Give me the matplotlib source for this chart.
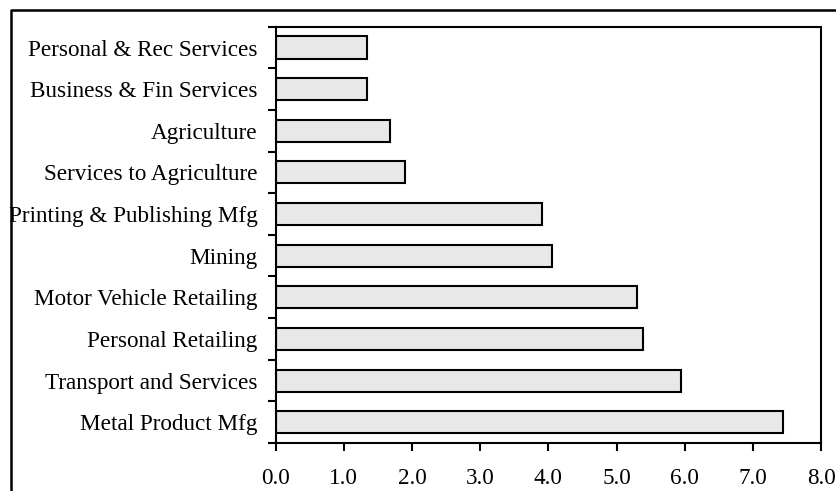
import matplotlib
matplotlib.use("Agg")
import matplotlib.pyplot as plt
import numpy as np
from matplotlib.lines import Line2D

plt.rcParams['font.family'] = ['Liberation Serif', 'DejaVu Serif']

categories = ["Personal & Rec Services", "Business & Fin Services", "Agriculture",
              "Services to Agriculture", "Printing & Publishing Mfg", "Mining",
              "Motor Vehicle Retailing", "Personal Retailing", "Transport and Services",
              "Metal Product Mfg"]
values = [1.34, 1.34, 1.67, 1.90, 3.90, 4.05, 5.30, 5.39, 5.95, 7.44]
xticks = [0, 1, 2, 3, 4, 5, 6, 7, 8]

W, H = 836, 491
fig = plt.figure(figsize=(W / 100, H / 100), dpi=100)
ax = fig.add_axes([275.7 / W, 1 - 443 / H, (821 - 275.7) / W, (443 - 26.7) / H])

y = np.arange(len(categories))
ax.barh(y, values, height=0.53, color="#e8e8e8", edgecolor="black", linewidth=1.5)

ax.set_ylim(len(categories) - 0.5, -0.5)
ax.set_xlim(0, 8)
ax.set_yticks(y)
ax.set_yticklabels(categories, fontsize=16.7)
ax.set_yticks(np.arange(-0.5, len(categories), 1.0), minor=True)
ax.tick_params(axis="y", which="major", length=0, pad=13)
ax.tick_params(axis="y", which="minor", length=6, width=1.5, direction="out")
ax.set_xticks(xticks)
ax.set_xticklabels(["%.1f" % v for v in xticks], fontsize=16.7)
ax.tick_params(axis="x", length=6, width=1.5, direction="out", pad=12)
for s in ax.spines.values():
    s.set_linewidth(1.5)

# outer frame (left and top edges visible)
fig.add_artist(Line2D([11 / W, 11 / W, 1.0], [0.0, 1 - 10 / H, 1 - 10 / H],
                      transform=fig.transFigure, color="black", linewidth=1.8))

fig.savefig("out.png", dpi=100)
